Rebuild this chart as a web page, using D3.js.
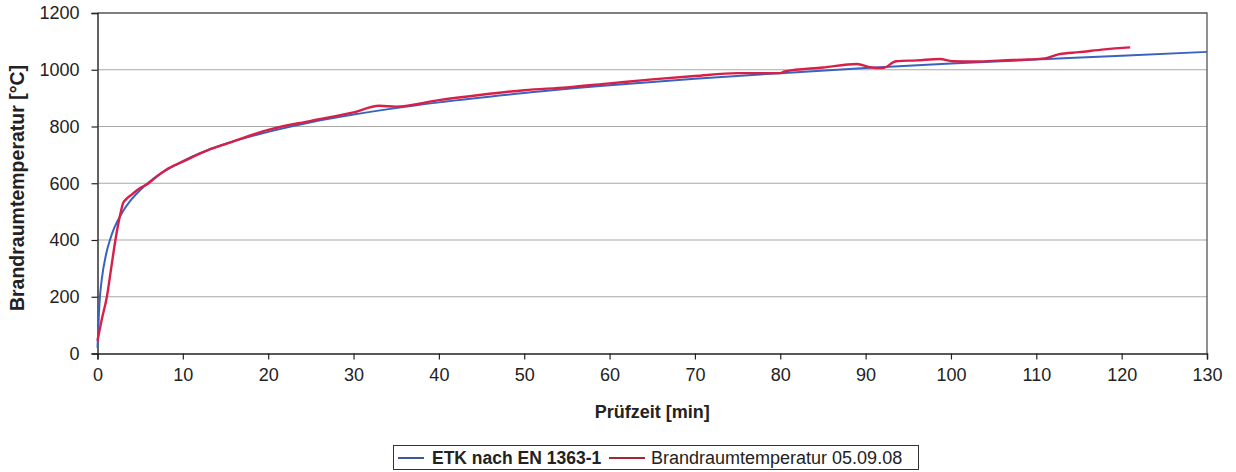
<!DOCTYPE html>
<html>
<head>
<meta charset="utf-8">
<script src="https://cdn.jsdelivr.net/npm/d3@7"></script>
<style>
  body { margin: 0; background: #fff; }
  svg { display: block; font-family: "Liberation Sans", Arial, sans-serif; }
</style>
</head>
<body>
<script>
// ETK nach EN 1363-1
const etkTime = [0, 0.25, 0.5, 1, 1.5, 2, 3, 4, 5, 7, 10, 15, 20, 25, 30, 40, 50, 60, 70, 80, 90, 100, 110, 120, 130];
const etkTemp = [20, 185, 261, 349, 404, 445, 502, 544, 576, 626, 678, 739, 781, 815, 842, 885, 918, 945, 968, 988, 1006, 1022, 1036, 1049, 1063];

// Brandraumtemperatur 05.09.08
const fireTime = [0, 0.5, 1.1, 1.6, 2.1, 2.7, 3.0, 3.4, 4, 5, 6, 7, 8, 10, 13, 15, 20, 25, 30, 33, 35, 40, 45, 50, 55, 60, 65, 70, 75, 80, 80.5, 85, 89, 90.5, 92, 93.6, 96, 98.7, 100.2, 103, 106, 109, 111, 112.7, 115, 118, 121];
const fireTemp = [45, 120, 200, 300, 400, 495, 530, 545, 560, 583, 600, 625, 647, 676, 718, 738, 788, 820, 850, 873, 870, 893, 912, 928, 938, 952, 966, 978, 988, 988, 994, 1008, 1020, 1009, 1006, 1030, 1033, 1038, 1030, 1029, 1033, 1036, 1040, 1055, 1062, 1072, 1079];

const xTicks = d3.range(0, 131, 10);
const yTicks = [0, 200, 400, 600, 800, 1000, 1200];
const legendLabels = ['ETK nach EN 1363-1', 'Brandraumtemperatur 05.09.08'];

const width = 1236;
const height = 472;
const blue = '#3a62bd';
const red = '#d81f48';

const svg = d3.select('body')
  .append('svg')
  .attr('width', width)
  .attr('height', height);

const x = d3.scaleLinear().domain([0, 130]).range([97.5, 1207]);
const y = d3.scaleLinear().domain([0, 1200]).range([353.5, 13]);

// grid
svg.append('g')
  .selectAll('line')
  .data(yTicks.filter(v => v > 0 && v < 1200))
  .join('line')
    .attr('x1', x(0)).attr('x2', x(130))
    .attr('y1', d => y(d)).attr('y2', d => y(d))
    .attr('stroke', '#a8a8a8')
    .attr('stroke-width', 1.2);

// frame top + right
svg.append('path')
  .attr('d', `M${x(0)},${y(1200)}H${x(130)}V${y(0)}`)
  .attr('fill', 'none')
  .attr('stroke', '#555')
  .attr('stroke-width', 1.3);

const yAxis = svg.append('g')
  .attr('transform', `translate(${x(0)},0)`)
  .call(d3.axisLeft(y).tickValues(yTicks).tickSize(6).tickPadding(12).tickFormat(d3.format('d')));

const xAxis = svg.append('g')
  .attr('transform', `translate(0,${y(0)})`)
  .call(d3.axisBottom(x).tickValues(xTicks).tickSize(6).tickPadding(9).tickFormat(d3.format('d')));

[yAxis, xAxis].forEach(g => {
  g.select('.domain').attr('stroke', '#222').attr('stroke-width', 1.4);
  g.selectAll('.tick line').attr('stroke', '#222').attr('stroke-width', 1.2);
  g.selectAll('.tick text')
    .attr('fill', '#222')
    .style('font-size', '18px')
    .style('font-family', '"Liberation Sans", Arial, sans-serif');
});

const line = d3.line()
  .x(d => x(d[0]))
  .y(d => y(d[1]))
  .curve(d3.curveMonotoneX);

svg.append('path')
  .datum(d3.zip(etkTime, etkTemp))
  .attr('fill', 'none')
  .attr('stroke', blue)
  .attr('stroke-width', 2)
  .attr('d', line);

svg.append('path')
  .datum(d3.zip(fireTime, fireTemp))
  .attr('fill', 'none')
  .attr('stroke', red)
  .attr('stroke-width', 2.4)
  .attr('stroke-linejoin', 'round')
  .attr('d', line);

// axis titles
svg.append('text')
  .attr('x', (x(0) + x(130)) / 2)
  .attr('y', 418)
  .attr('text-anchor', 'middle')
  .attr('fill', '#222')
  .style('font-size', '18px')
  .style('font-weight', 'bold')
  .text('Prüfzeit [min]');

svg.append('text')
  .attr('transform', 'translate(24,188) rotate(-90)')
  .attr('text-anchor', 'middle')
  .attr('fill', '#222')
  .style('font-size', '19.5px')
  .style('font-weight', 'bold')
  .text('Brandraumtemperatur [°C]');

// legend
const legend = svg.append('g');
legend.append('rect')
  .attr('x', 393.5).attr('y', 445.5)
  .attr('width', 525).attr('height', 24)
  .attr('fill', '#fff')
  .attr('stroke', '#333')
  .attr('stroke-width', 1);

const items = [
  { label: legendLabels[0], color: '#3d5a95', x0: 398, len: 26, tx: 432, size: 17.5, weight: 'bold' },
  { label: legendLabels[1], color: '#a3263a', x0: 609, len: 36, tx: 651, size: 18, weight: 'normal' }
];
items.forEach(it => {
  legend.append('line')
    .attr('x1', it.x0).attr('x2', it.x0 + it.len)
    .attr('y1', 458).attr('y2', 458)
    .attr('stroke', it.color)
    .attr('stroke-width', 2);
  legend.append('text')
    .attr('x', it.tx)
    .attr('y', 464)
    .attr('fill', '#222')
    .style('font-size', it.size + 'px')
    .style('font-weight', it.weight)
    .text(it.label);
});
</script>
</body>
</html>
